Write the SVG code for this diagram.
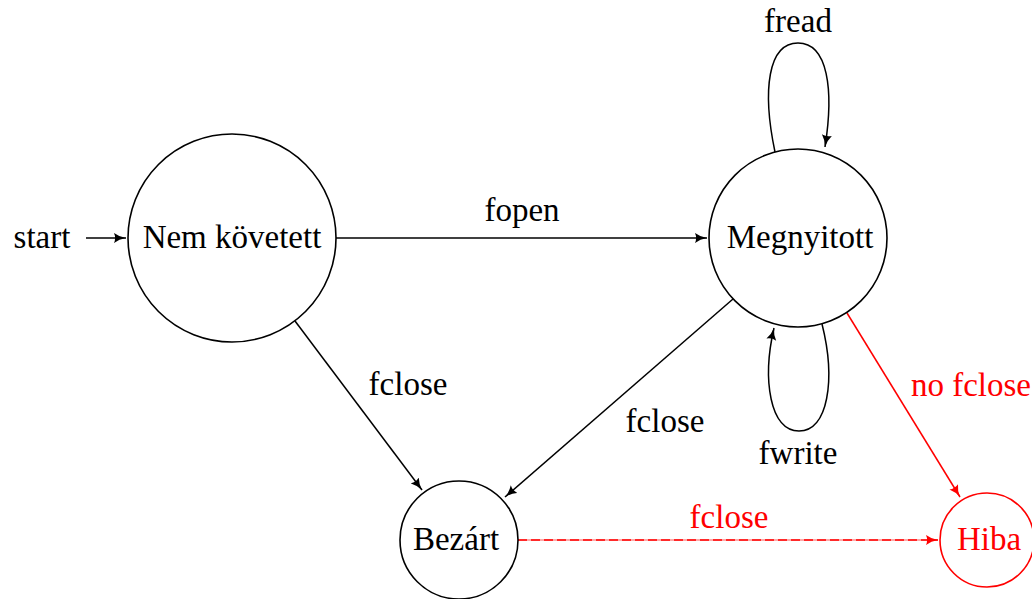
<svg xmlns="http://www.w3.org/2000/svg" width="1032" height="599" viewBox="0 0 1032 599">
  <style>
    .state { fill: none; stroke: #000; stroke-width: 1.6; }
    .err { stroke: #ff0000; }
    .edge { fill: none; stroke: #000; stroke-width: 1.5; }
    .edge.red { stroke: #ff0000; }
    text { font-family: "Liberation Serif", serif; font-size: 33px; fill: #000; text-anchor: middle; }
    text.red { fill: #ff0000; }
  </style>
  <defs>
    <marker id="arr" viewBox="0 0 13 11" refX="12" refY="5.5" markerWidth="13" markerHeight="11" markerUnits="userSpaceOnUse" orient="auto">
      <path d="M0,0.5 Q5,4.3 12,5.5 Q5,6.7 0,10.5 Q2.2,5.5 0,0.5 Z" fill="#000"/>
    </marker>
    <marker id="arrRed" viewBox="0 0 13 11" refX="12" refY="5.5" markerWidth="13" markerHeight="11" markerUnits="userSpaceOnUse" orient="auto">
      <path d="M0,0.5 Q5,4.3 12,5.5 Q5,6.7 0,10.5 Q2.2,5.5 0,0.5 Z" fill="#ff0000"/>
    </marker>
  </defs>

  <!-- transitions -->
  <g id="edges">
    <line class="edge" x1="86" y1="238" x2="126" y2="238" marker-end="url(#arr)"/>
    <line class="edge" x1="336" y1="238" x2="707" y2="238" marker-end="url(#arr)"/>
    <line class="edge" x1="295" y1="321" x2="422" y2="490" marker-end="url(#arr)"/>
    <line class="edge" x1="733" y1="299" x2="505" y2="497" marker-end="url(#arr)"/>
    <path class="edge" d="M775,152 C762,90 768,43 798,43 C828,43 834,90 825,147" marker-end="url(#arr)"/>
    <path class="edge" d="M822,324 C836,380 828,431 799,431 C770,431 762,380 774,328" marker-end="url(#arr)"/>
    <line class="edge red" x1="847" y1="313" x2="960" y2="497" stroke-width="1.3" marker-end="url(#arrRed)"/>
    <line class="edge red" x1="518" y1="540" x2="938" y2="540" stroke-opacity="0.45"/>
    <line class="edge red" x1="518" y1="540" x2="938" y2="540" stroke-dasharray="9 4" marker-end="url(#arrRed)"/>
  </g>

  <g id="edge-labels">
    <text x="42" y="248">start</text>
    <text x="522" y="221">fopen</text>
    <text x="798" y="32">fread</text>
    <text x="798" y="464">fwrite</text>
    <text x="408" y="395">fclose</text>
    <text x="665" y="432">fclose</text>
    <text class="red" x="1031" y="396" style="text-anchor: end">no fclose</text>
    <text class="red" x="729" y="528">fclose</text>
  </g>

  <g id="nem-kovetett">
    <circle class="state" cx="232" cy="238" r="104"/>
    <text x="232" y="248">Nem követett</text>
  </g>

  <g id="megnyitott">
    <circle class="state" cx="798" cy="238" r="89"/>
    <text x="800" y="248">Megnyitott</text>
  </g>

  <g id="bezart">
    <circle class="state" cx="459" cy="540" r="59"/>
    <text x="456" y="550">Bezárt</text>
  </g>

  <g id="hiba">
    <circle class="state err" cx="987" cy="540" r="47"/>
    <text class="red" x="989" y="550">Hiba</text>
  </g>
</svg>
